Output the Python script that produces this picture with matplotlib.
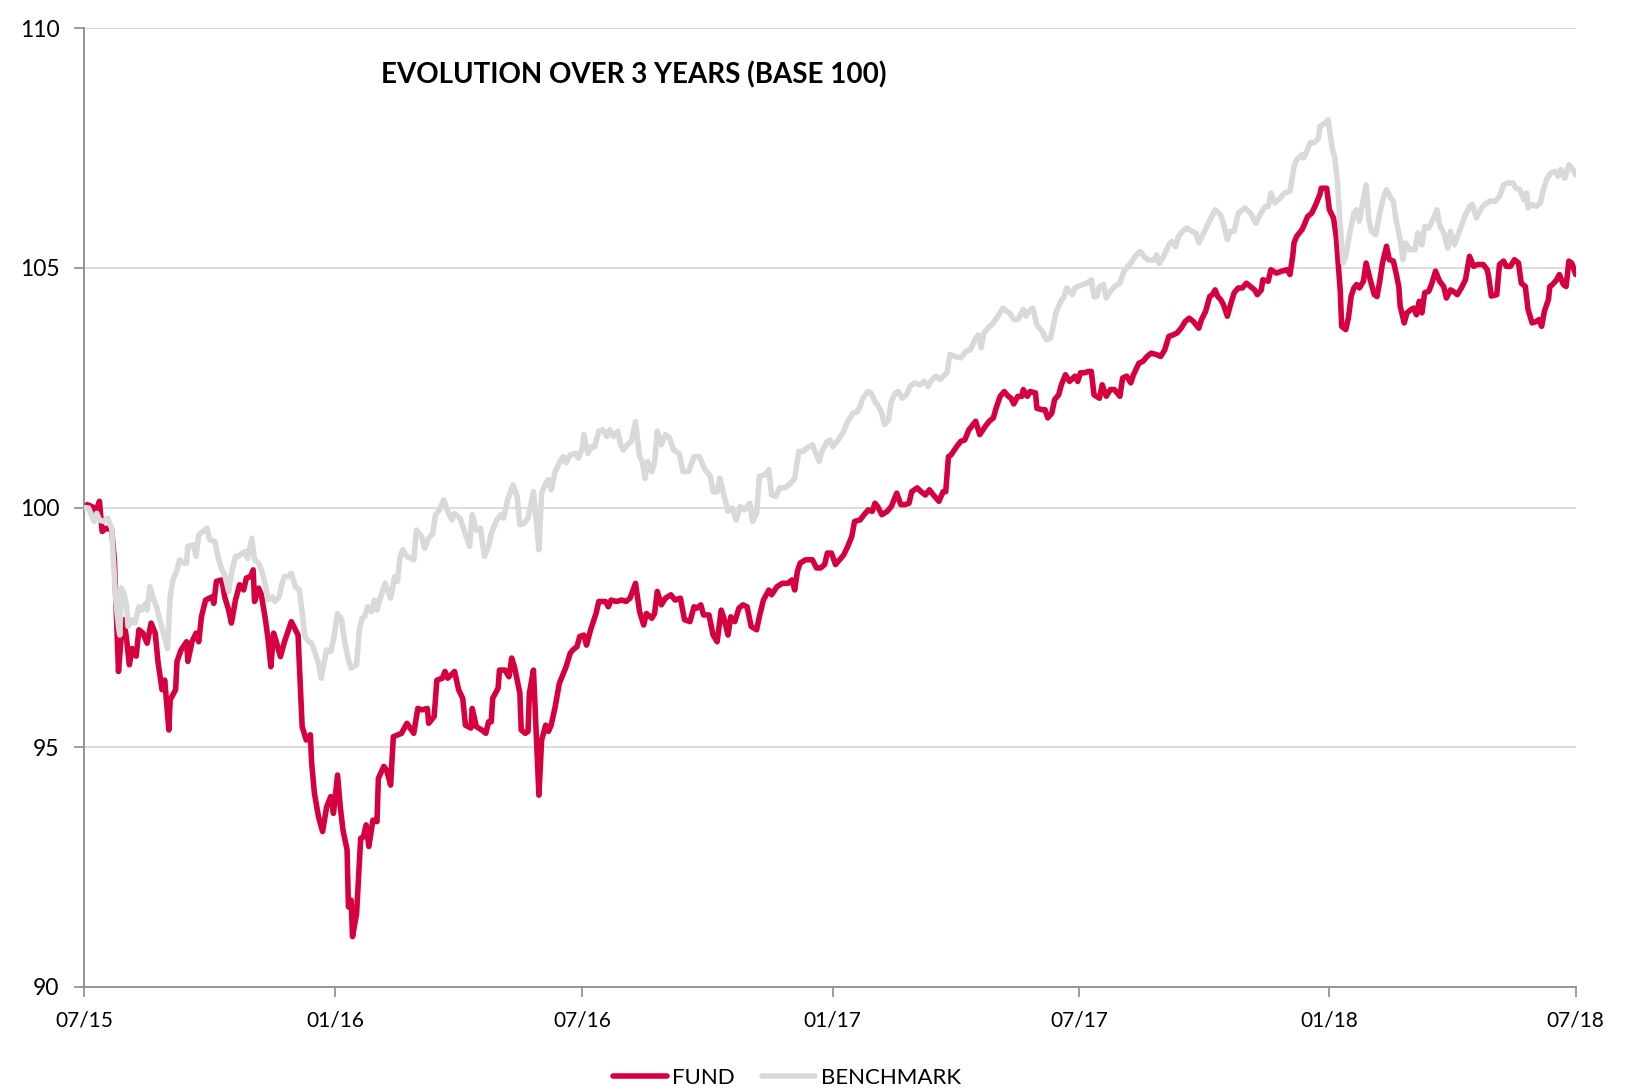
import matplotlib
matplotlib.use('Agg')
import matplotlib.pyplot as plt
import matplotlib.dates as mdates
import pandas as pd

# ---- data (days counted from 2015-07-01) ----
start_date = '2015-07-01'

fund_days = [
    0, 2, 7, 8, 11, 13, 16, 20, 22, 24, 25, 27, 29, 31, 33, 35, 38, 40, 43, 46,
    49, 52, 54, 57, 59, 62, 63, 67, 68, 71, 75, 76, 79, 82, 84, 86, 89, 94, 95, 97,
    101, 103, 106, 108, 111, 114, 117, 119, 122, 124, 125, 128, 130, 133, 135, 137, 139, 141, 144, 147,
    150, 152, 155, 157, 158, 160, 163, 166, 167, 169, 172, 175, 178, 181, 183, 186, 188, 190, 193, 194,
    196, 197, 200, 203, 205, 207, 209, 212, 215, 216, 220, 222, 225, 227, 233, 237, 242, 245, 248, 252,
    253, 257, 259, 263, 265, 267, 272, 275, 278, 280, 284, 285, 288, 292, 295, 297, 299, 300, 304, 305,
    309, 312, 314, 316, 320, 321, 324, 326, 327, 330, 332, 334, 336, 339, 341, 343, 346, 349, 352, 354,
    357, 359, 362, 364, 367, 369, 372, 374, 376, 378, 383, 385, 387, 391, 395, 398, 401, 405, 408, 411,
    413, 417, 419, 421, 424, 427, 431, 434, 438, 441, 445, 448, 450, 453, 455, 459, 462, 465, 468, 470,
    473, 475, 478, 481, 484, 487, 490, 494, 496, 499, 503, 505, 509, 513, 517, 520, 522, 524, 526, 530,
    533, 535, 538, 541, 544, 546, 549, 552, 555, 558, 561, 564, 566, 570, 573, 576, 579, 581, 583, 586,
    590, 593, 597, 600, 603, 606, 608, 612, 615, 618, 621, 624, 628, 631, 633, 635, 637, 641, 644, 647,
    650, 652, 655, 658, 662, 665, 668, 670, 673, 676, 679, 681, 683, 686, 689, 690, 693, 695, 699, 700,
    704, 706, 708, 711, 713, 716, 718, 721, 724, 728, 730, 732, 735, 738, 740, 742, 746, 748, 751, 754,
    757, 761, 763, 766, 769, 771, 775, 778, 781, 784, 788, 791, 794, 797, 800, 803, 806, 809, 812, 815,
    819, 821, 824, 827, 829, 831, 833, 835, 837, 840, 842, 845, 848, 851, 854, 857, 860, 862, 865, 866,
    870, 872, 876, 880, 884, 886, 888, 889, 891, 895, 897, 899, 902, 905, 908, 909, 913, 915, 918, 920,
    922, 923, 924, 927, 929, 931, 933, 935, 937, 940, 942, 945, 948, 950, 952, 954, 957, 959, 962, 964,
    966, 967, 970, 972, 975, 977, 979, 981, 983, 985, 988, 990, 993, 996, 999, 1001, 1004, 1006, 1009, 1012,
    1015, 1018, 1021, 1024, 1028, 1031, 1032, 1034, 1038, 1040, 1043, 1045, 1048, 1051, 1054, 1056, 1059, 1061, 1064, 1067,
    1069, 1071, 1073, 1076, 1077, 1079, 1082, 1084, 1087, 1089, 1091, 1093, 1094, 1096,
]
fund_vals = [
    100.0, 100.06, 100.0, 99.88, 100.13, 99.5, 99.57, 99.53, 98.9, 97.38, 96.58, 97.3, 97.66, 97.24, 96.72, 97.06, 96.9, 97.45, 97.38, 97.17,
    97.59, 97.38, 96.79, 96.2, 96.4, 95.36, 95.99, 96.2, 96.79, 97.03, 97.2, 96.79, 97.2, 97.38, 97.2, 97.73, 98.07, 98.14, 98.0, 98.46,
    98.49, 98.14, 97.86, 97.59, 98.07, 98.39, 98.28, 98.53, 98.56, 98.7, 98.04, 98.32, 98.18, 97.66, 97.24, 96.68, 97.38, 97.2, 96.89, 97.2,
    97.45, 97.62, 97.45, 97.34, 96.68, 95.43, 95.15, 95.26, 94.66, 94.04, 93.55, 93.24, 93.76, 93.97, 93.62, 94.42, 93.76, 93.27, 92.86, 91.67,
    91.81, 91.05, 91.53, 93.1, 93.13, 93.38, 92.93, 93.48, 93.45, 94.35, 94.6, 94.53, 94.21, 95.22, 95.29, 95.5, 95.29, 95.81, 95.78, 95.81,
    95.5, 95.64, 96.4, 96.44, 96.58, 96.44, 96.58, 96.2, 96.02, 95.46, 95.4, 95.81, 95.43, 95.36, 95.29, 95.53, 95.53, 96.02, 96.23, 96.61,
    96.61, 96.47, 96.86, 96.68, 96.13, 95.36, 95.29, 95.33, 96.13, 96.61, 95.29, 94.0, 95.15, 95.46, 95.33, 95.46, 95.85, 96.33, 96.54, 96.68,
    96.96, 97.03, 97.1, 97.31, 97.34, 97.13, 97.45, 97.62, 97.79, 98.04, 98.04, 97.93, 98.07, 98.04, 98.07, 98.04, 98.11, 98.42, 97.83, 97.55,
    97.79, 97.69, 97.79, 98.25, 97.97, 98.11, 98.18, 98.07, 98.11, 97.66, 97.62, 97.93, 97.9, 97.97, 97.76, 97.76, 97.34, 97.2, 97.86, 97.69,
    97.34, 97.72, 97.62, 97.9, 97.97, 97.93, 97.52, 97.45, 97.72, 98.07, 98.28, 98.18, 98.35, 98.42, 98.42, 98.49, 98.28, 98.67, 98.84, 98.91,
    98.91, 98.91, 98.74, 98.74, 98.81, 99.05, 99.05, 98.81, 98.91, 99.01, 99.19, 99.4, 99.71, 99.74, 99.85, 99.95, 99.92, 100.09, 100.02, 99.85,
    99.92, 100.02, 100.3, 100.06, 100.06, 100.09, 100.33, 100.41, 100.33, 100.26, 100.37, 100.26, 100.13, 100.33, 100.33, 101.06, 101.1, 101.27, 101.38, 101.41,
    101.62, 101.69, 101.8, 101.52, 101.69, 101.8, 101.87, 102.07, 102.32, 102.42, 102.32, 102.28, 102.16, 102.32, 102.32, 102.46, 102.32, 102.42, 102.39, 102.07,
    102.04, 102.04, 101.87, 101.97, 102.25, 102.35, 102.56, 102.77, 102.63, 102.74, 102.63, 102.81, 102.81, 102.84, 102.84, 102.35, 102.28, 102.56, 102.32, 102.46,
    102.46, 102.32, 102.7, 102.74, 102.6, 102.77, 103.01, 103.05, 103.15, 103.22, 103.19, 103.15, 103.29, 103.57, 103.6, 103.64, 103.74, 103.88, 103.95, 103.88,
    103.74, 103.92, 104.09, 104.4, 104.44, 104.54, 104.4, 104.34, 104.24, 103.99, 104.2, 104.48, 104.58, 104.58, 104.68, 104.61, 104.54, 104.44, 104.54, 104.75,
    104.72, 104.96, 104.89, 104.93, 104.96, 104.86, 105.24, 105.52, 105.66, 105.8, 105.93, 106.07, 106.14, 106.32, 106.53, 106.66, 106.66, 106.21, 106.04, 105.66,
    104.89, 104.51, 103.78, 103.71, 103.96, 104.41, 104.58, 104.65, 104.58, 104.72, 105.1, 104.75, 104.44, 104.4, 104.72, 105.1, 105.45, 105.17, 105.14, 104.89,
    104.61, 104.2, 103.85, 104.06, 104.13, 104.16, 104.02, 104.3, 104.06, 104.48, 104.51, 104.65, 104.93, 104.72, 104.61, 104.37, 104.54, 104.51, 104.44, 104.58,
    104.75, 105.24, 105.03, 105.07, 105.07, 104.96, 104.82, 104.41, 104.44, 105.07, 105.14, 105.03, 105.03, 105.17, 105.1, 104.68, 104.61, 104.13, 103.85, 103.88,
    103.92, 103.78, 104.09, 104.34, 104.61, 104.65, 104.75, 104.86, 104.65, 104.61, 105.14, 105.1, 105.03, 104.86,
]

bench_days = [
    0, 3, 7, 9, 11, 14, 17, 20, 21, 23, 25, 26, 27, 29, 31, 32, 35, 37, 40, 42,
    45, 46, 48, 51, 53, 56, 58, 61, 63, 65, 68, 70, 73, 75, 76, 80, 82, 84, 87, 90,
    92, 96, 98, 101, 103, 106, 108, 111, 113, 116, 118, 120, 123, 125, 128, 130, 133, 135, 138, 140,
    143, 145, 147, 150, 152, 155, 158, 160, 162, 165, 167, 169, 172, 174, 176, 178, 181, 183, 186, 189,
    191, 194, 196, 200, 202, 204, 206, 208, 211, 213, 215, 217, 221, 225, 228, 230, 232, 234, 237, 242,
    244, 248, 250, 253, 256, 258, 261, 264, 267, 270, 272, 276, 279, 283, 285, 288, 291, 294, 297, 299,
    303, 306, 308, 311, 315, 318, 320, 323, 326, 330, 332, 334, 336, 339, 341, 343, 346, 350, 352, 354,
    357, 361, 363, 366, 367, 370, 373, 375, 378, 381, 384, 386, 389, 392, 394, 396, 400, 402, 405, 408,
    410, 412, 414, 417, 419, 421, 424, 427, 430, 433, 437, 440, 444, 448, 452, 456, 460, 462, 465, 467,
    470, 473, 476, 479, 482, 485, 489, 491, 494, 496, 500, 503, 505, 508, 511, 515, 519, 522, 525, 528,
    531, 535, 538, 540, 542, 546, 548, 550, 554, 558, 561, 565, 568, 570, 572, 576, 578, 581, 583, 586,
    588, 591, 593, 596, 598, 601, 604, 607, 610, 614, 617, 620, 623, 626, 629, 631, 634, 636, 640, 644,
    648, 651, 655, 657, 659, 661, 664, 668, 672, 675, 678, 680, 683, 686, 690, 692, 694, 697, 700, 704,
    707, 710, 712, 714, 717, 720, 722, 726, 728, 730, 734, 737, 740, 742, 744, 746, 749, 751, 754, 757,
    761, 764, 767, 770, 773, 776, 779, 782, 786, 788, 790, 793, 797, 799, 802, 804, 807, 810, 814, 817,
    819, 822, 825, 828, 831, 835, 837, 840, 842, 845, 848, 853, 857, 861, 864, 868, 870, 872, 875, 879,
    882, 886, 889, 891, 895, 896, 899, 901, 904, 907, 908, 912, 914, 917, 919, 921, 923, 925, 927, 930,
    933, 935, 937, 939, 942, 944, 946, 949, 952, 955, 957, 960, 962, 964, 967, 969, 971, 974, 978, 980,
    983, 985, 988, 991, 994, 996, 999, 1002, 1004, 1007, 1011, 1015, 1018, 1020, 1023, 1026, 1029, 1033, 1037, 1040,
    1043, 1046, 1050, 1052, 1055, 1058, 1060, 1061, 1064, 1067, 1070, 1072, 1075, 1078, 1081, 1083, 1085, 1088, 1091, 1094,
    1096,
]
bench_vals = [
    100.0, 99.99, 99.71, 99.88, 99.74, 99.71, 99.78, 99.57, 99.05, 98.07, 97.52, 97.34, 98.32, 98.21, 97.93, 97.52, 97.66, 97.59, 97.93, 97.86,
    98.0, 97.86, 98.35, 98.07, 97.93, 97.59, 97.38, 97.06, 98.14, 98.49, 98.7, 98.91, 98.84, 98.84, 99.19, 99.22, 98.98, 99.43, 99.5, 99.57,
    99.33, 99.29, 98.98, 98.7, 98.6, 98.25, 98.63, 98.98, 98.98, 99.05, 99.08, 98.94, 99.36, 98.91, 98.84, 98.7, 98.39, 98.07, 98.14, 98.04,
    98.14, 98.39, 98.56, 98.56, 98.63, 98.35, 98.28, 97.79, 97.31, 97.2, 97.17, 97.0, 96.75, 96.44, 96.75, 97.03, 97.0, 97.24, 97.79, 97.66,
    97.24, 96.82, 96.65, 96.72, 97.45, 97.69, 97.73, 97.93, 97.83, 98.07, 97.86, 98.07, 98.42, 98.11, 98.56, 98.46, 98.98, 99.12, 98.98, 98.91,
    99.53, 99.39, 99.15, 99.36, 99.46, 99.85, 99.95, 100.16, 99.92, 99.74, 99.88, 99.78, 99.53, 99.19, 99.85, 99.53, 99.57, 98.98, 99.19, 99.46,
    99.74, 99.85, 99.78, 100.16, 100.47, 100.23, 99.64, 99.67, 99.78, 100.33, 99.74, 99.12, 100.3, 100.51, 100.58, 100.37, 100.75, 100.99, 101.06, 100.93,
    101.1, 101.13, 101.03, 101.24, 101.52, 101.13, 101.27, 101.27, 101.59, 101.62, 101.48, 101.62, 101.48, 101.59, 101.31, 101.2, 101.34, 101.38, 101.79, 101.06,
    100.96, 100.61, 100.96, 100.75, 100.93, 101.59, 101.31, 101.52, 101.45, 101.2, 101.13, 100.75, 100.75, 101.06, 101.06, 100.79, 100.65, 100.33, 100.33, 100.61,
    100.26, 99.92, 99.99, 99.74, 100.02, 99.95, 100.09, 99.71, 99.88, 100.65, 100.68, 100.79, 100.26, 100.23, 100.41, 100.41, 100.51, 100.61, 101.17, 101.17,
    101.24, 101.31, 101.1, 100.96, 101.17, 101.38, 101.41, 101.27, 101.41, 101.59, 101.8, 101.97, 102.0, 102.11, 102.28, 102.42, 102.39, 102.21, 102.14, 101.97,
    101.73, 101.83, 102.21, 102.39, 102.42, 102.28, 102.35, 102.53, 102.6, 102.56, 102.63, 102.53, 102.67, 102.74, 102.67, 102.74, 102.81, 103.19, 103.15, 103.12,
    103.26, 103.29, 103.53, 103.6, 103.33, 103.64, 103.74, 103.85, 104.02, 104.16, 104.09, 104.06, 103.92, 103.92, 104.13, 103.99, 104.09, 104.16, 103.81, 103.67,
    103.5, 103.53, 103.78, 104.06, 104.27, 104.4, 104.58, 104.44, 104.58, 104.61, 104.65, 104.68, 104.75, 104.4, 104.4, 104.61, 104.65, 104.37, 104.51, 104.61,
    104.68, 104.93, 105.03, 105.14, 105.27, 105.34, 105.23, 105.16, 105.16, 105.27, 105.09, 105.23, 105.48, 105.55, 105.44, 105.65, 105.76, 105.83, 105.76, 105.72,
    105.52, 105.69, 105.87, 106.04, 106.21, 106.11, 105.93, 105.59, 105.76, 105.76, 106.14, 106.25, 106.14, 105.93, 106.11, 106.28, 106.28, 106.56, 106.35, 106.46,
    106.56, 106.6, 107.12, 107.26, 107.36, 107.29, 107.47, 107.61, 107.61, 107.71, 107.95, 108.02, 108.09, 107.5, 107.29, 106.77, 105.86, 105.1, 105.24, 105.73,
    106.14, 106.21, 105.97, 106.28, 106.73, 106.0, 105.76, 105.69, 106.14, 106.49, 106.63, 106.46, 106.39, 106.0, 105.59, 105.17, 105.52, 105.38, 105.38, 105.73,
    105.48, 105.86, 105.83, 106.0, 106.21, 105.9, 105.73, 105.41, 105.76, 105.48, 105.8, 106.11, 106.28, 106.32, 106.04, 106.21, 106.32, 106.39, 106.39, 106.49,
    106.73, 106.77, 106.77, 106.66, 106.63, 106.42, 106.56, 106.25, 106.32, 106.28, 106.35, 106.6, 106.87, 106.98, 107.01, 106.91, 107.05, 106.87, 107.15, 107.05,
    106.94,
]

series_names = ['FUND', 'BENCHMARK']
y_ticks = [90, 95, 100, 105, 110]
x_ticks = ['2015-07-01', '2016-01-01', '2016-07-01', '2017-01-01',
           '2017-07-01', '2018-01-01', '2018-07-01']
title = 'EVOLUTION OVER 3 YEARS (BASE 100)'

fund_color = '#D6003F'
bench_color = '#D9D9D9'
axis_color = '#8C8C8C'

plt.rcParams['font.family'] = ['Lato', 'DejaVu Sans']

fig = plt.figure(figsize=(16.34, 10.89), dpi=100)
ax = fig.add_axes([0.0517, 0.0937, 0.9126, 0.8805])

base = pd.Timestamp(start_date)
fund_dates = base + pd.to_timedelta(fund_days, unit='D')
bench_dates = base + pd.to_timedelta(bench_days, unit='D')

# fund first, benchmark drawn over it (same order as the original chart)
ax.plot(fund_dates, fund_vals, color=fund_color, lw=4.0, label=series_names[0],
        solid_joinstyle='round', solid_capstyle='round', zorder=3)
ax.plot(bench_dates, bench_vals, color=bench_color, lw=4.0, label=series_names[1],
        solid_joinstyle='round', solid_capstyle='round', zorder=4)

tick_dates = pd.to_datetime(x_ticks)
ax.set_xlim(tick_dates[0], tick_dates[-1])
ax.set_ylim(y_ticks[0], y_ticks[-1])
ax.set_yticks(y_ticks)
ax.set_xticks(tick_dates)
ax.xaxis.set_major_formatter(mdates.DateFormatter('%m/%y'))

ax.grid(axis='y', color='#D9D9D9', lw=1.3)
ax.set_axisbelow(True)

for side in ['top', 'right']:
    ax.spines[side].set_visible(False)
for side in ['left', 'bottom']:
    ax.spines[side].set_color(axis_color)
    ax.spines[side].set_linewidth(1.3)

ax.tick_params(axis='x', length=7, width=1.2, color=axis_color, pad=10,
               labelsize=15, labelcolor='black')
ax.tick_params(axis='y', length=7, width=1.2, color=axis_color, pad=11,
               labelsize=16.5, labelcolor='black')

fig.text(0.388, 0.931, title, ha='center', va='center', fontsize=20,
         fontweight='bold', color='black')

fig.legend(loc='center', bbox_to_anchor=(0.4816, 0.0105), ncol=2, frameon=False,
           fontsize=16, handlelength=2.4, handletextpad=0.25, columnspacing=1.2,
           borderaxespad=0, borderpad=0)

fig.savefig('out.png', dpi=100)
